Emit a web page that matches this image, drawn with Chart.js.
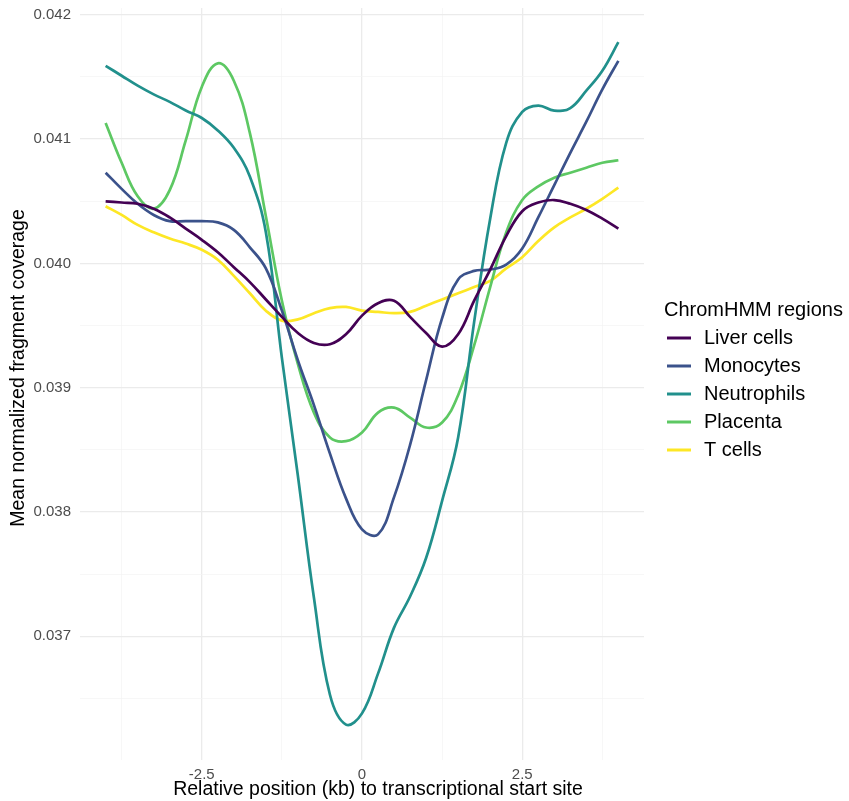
<!DOCTYPE html>
<html>
<head>
<meta charset="utf-8">
<script src="https://cdn.jsdelivr.net/npm/chart.js@4.4.1/dist/chart.umd.min.js"></script>
<style>
  html, body { margin: 0; padding: 0; background: #ffffff; }
  canvas { display: block; }
</style>
</head>
<body>
<canvas id="chart" width="849" height="801"></canvas>
<script>
// Positions relative to the TSS (kb)
const positionsKb = [-4, -3.75, -3.5, -3.25, -3, -2.75, -2.5, -2.25, -2, -1.75, -1.5, -1.25, -1, -0.75, -0.5, -0.25,
  0, 0.25, 0.5, 0.75, 1, 1.25, 1.5, 1.75, 2, 2.25, 2.5, 2.75, 3, 3.25, 3.5, 3.75, 4];

const regionNames = ['Liver cells', 'Monocytes', 'Neutrophils', 'Placenta', 'T cells'];
const regionColors = ['#440154', '#3B528B', '#21908C', '#5DC863', '#FDE725'];

// Mean normalized fragment coverage per ChromHMM region set
const liverCells = [0.04050, 0.04049, 0.04048, 0.04044, 0.04037, 0.04028, 0.04019, 0.04009, 0.03997, 0.03985, 0.03971,
  0.03957, 0.03944, 0.03936, 0.03935, 0.03943, 0.03958, 0.03968, 0.03970, 0.03957, 0.03944, 0.03933, 0.03943, 0.03970,
  0.03995, 0.04022, 0.04042, 0.04049, 0.04051, 0.04048, 0.04043, 0.04036, 0.04028];
const monocytes = [0.04073, 0.04060, 0.04048, 0.04039, 0.04034, 0.04034, 0.04034, 0.04033, 0.04027, 0.04013, 0.03996,
  0.03962, 0.03922, 0.03886, 0.03847, 0.03811, 0.03786, 0.03782, 0.03812, 0.03854, 0.03906, 0.03956, 0.03987, 0.03994,
  0.03995, 0.03999, 0.04012, 0.04037, 0.04063, 0.04089, 0.04114, 0.04140, 0.04163];
const neutrophils = [0.04159, 0.04151, 0.04143, 0.04136, 0.04130, 0.04123, 0.04117, 0.04107, 0.04093, 0.04070, 0.04025,
  0.03924, 0.03829, 0.03731, 0.03653, 0.03629, 0.03638, 0.03670, 0.03707, 0.03732, 0.03763, 0.03809, 0.03860, 0.03953,
  0.04036, 0.04097, 0.04122, 0.04127, 0.04123, 0.04125, 0.04139, 0.04155, 0.04178];
const placenta = [0.04113, 0.04081, 0.04054, 0.04044, 0.04059, 0.04099, 0.04142, 0.04161, 0.04147, 0.04105, 0.04038,
  0.03970, 0.03919, 0.03880, 0.03860, 0.03857, 0.03864, 0.03880, 0.03884, 0.03876, 0.03868, 0.03872, 0.03894, 0.03934,
  0.03981, 0.04025, 0.04051, 0.04062, 0.04069, 0.04073, 0.04077, 0.04081, 0.04083];
const tCells = [0.04046, 0.04039, 0.04031, 0.04025, 0.04020, 0.04016, 0.04011, 0.04003, 0.03990, 0.03976, 0.03962,
  0.03954, 0.03955, 0.03960, 0.03964, 0.03965, 0.03962, 0.03961, 0.03960, 0.03961, 0.03966, 0.03971, 0.03976, 0.03981,
  0.03986, 0.03996, 0.04005, 0.04018, 0.04029, 0.04037, 0.04044, 0.04052, 0.04061];

// Axis breaks: labelled (major) and unlabelled (minor) grid positions
const xMajorTicks = [-2.5, 0, 2.5];
const xGridTicks = [-3.75, -2.5, -1.25, 0, 1.25, 2.5, 3.75];
const yMajorTicks = [0.037, 0.038, 0.039, 0.040, 0.041, 0.042];
const yGridTicks = [0.0365, 0.037, 0.0375, 0.038, 0.0385, 0.039, 0.0395, 0.040, 0.0405, 0.041, 0.0415, 0.042];

const xTitle = 'Relative position (kb) to transcriptional start site';
const yTitle = 'Mean normalized fragment coverage';
const legendTitle = 'ChromHMM regions';

const FONT = "'Liberation Sans', Arial, Helvetica, sans-serif";
const series = [liverCells, monocytes, neutrophils, placenta, tCells];

const isMajor = (list, v) => list.some(m => Math.abs(m - v) < 1e-9);

// Axis titles and the line legend, drawn next to the panel
const decorations = {
  id: 'decorations',
  afterDraw(chart) {
    const ctx = chart.ctx;
    const area = chart.chartArea;
    ctx.save();
    ctx.fillStyle = '#000000';
    ctx.font = '19.5px ' + FONT;
    ctx.textAlign = 'center';
    ctx.textBaseline = 'middle';
    ctx.fillText(xTitle, (area.left + area.right) / 2 + 16, 790);
    ctx.save();
    ctx.translate(19, (area.top + area.bottom) / 2 - 16);
    ctx.rotate(-Math.PI / 2);
    ctx.fillText(yTitle, 0, 0);
    ctx.restore();

    ctx.textAlign = 'left';
    ctx.font = '20px ' + FONT;
    ctx.fillText(legendTitle, 664, 310);
    chart.data.datasets.forEach((ds, i) => {
      const y = 338 + i * 28;
      ctx.strokeStyle = ds.borderColor;
      ctx.lineWidth = 3;
      ctx.beginPath();
      ctx.moveTo(667, y);
      ctx.lineTo(691, y);
      ctx.stroke();
      ctx.fillStyle = '#000000';
      ctx.fillText(ds.label, 704, y);
    });
    ctx.restore();
  }
};

// Keep the panel edges fixed: no extra room reserved for overhanging tick labels
const noOverhang = scale => {
  scale.paddingTop = 0;
  scale.paddingBottom = 0;
  scale.paddingLeft = 0;
  scale.paddingRight = 0;
};

new Chart(document.getElementById('chart'), {
  type: 'line',
  data: {
    datasets: regionNames.map((name, i) => ({
      label: name,
      data: positionsKb.map((x, j) => ({ x: x, y: series[i][j] })),
      borderColor: regionColors[i],
      backgroundColor: regionColors[i],
      borderWidth: 2.7,
      pointRadius: 0,
      tension: 0.4,
      fill: false
    }))
  },
  options: {
    responsive: false,
    animation: false,
    layout: { padding: { left: 0, right: 205, top: 8, bottom: 0 } },
    plugins: { legend: { display: false }, tooltip: { enabled: false } },
    scales: {
      x: {
        type: 'linear',
        min: -4.4,
        max: 4.4,
        afterBuildTicks: scale => { scale.ticks = xGridTicks.map(v => ({ value: v })); },
        afterFit: scale => { scale.height = 41; noOverhang(scale); },
        border: { display: false },
        grid: {
          drawTicks: false,
          color: c => isMajor(xMajorTicks, c.tick.value) ? '#EBEBEB' : '#F3F3F3',
          lineWidth: c => isMajor(xMajorTicks, c.tick.value) ? 1.3 : 0.7
        },
        ticks: {
          autoSkip: false,
          maxRotation: 0,
          padding: 6,
          color: '#4D4D4D',
          font: { family: FONT, size: 15 },
          callback: v => isMajor(xMajorTicks, v) ? String(v) : ''
        }
      },
      y: {
        type: 'linear',
        min: 0.036005,
        max: 0.042055,
        afterBuildTicks: scale => { scale.ticks = yGridTicks.map(v => ({ value: v })); },
        afterFit: scale => { scale.width = 80; noOverhang(scale); },
        border: { display: false },
        grid: {
          drawTicks: false,
          color: c => isMajor(yMajorTicks, c.tick.value) ? '#EBEBEB' : '#F3F3F3',
          lineWidth: c => isMajor(yMajorTicks, c.tick.value) ? 1.3 : 0.7
        },
        ticks: {
          autoSkip: false,
          padding: 9,
          color: '#4D4D4D',
          font: { family: FONT, size: 15 },
          callback: v => isMajor(yMajorTicks, v) ? v.toFixed(3) : ''
        }
      }
    }
  },
  plugins: [decorations]
});
</script>
</body>
</html>
